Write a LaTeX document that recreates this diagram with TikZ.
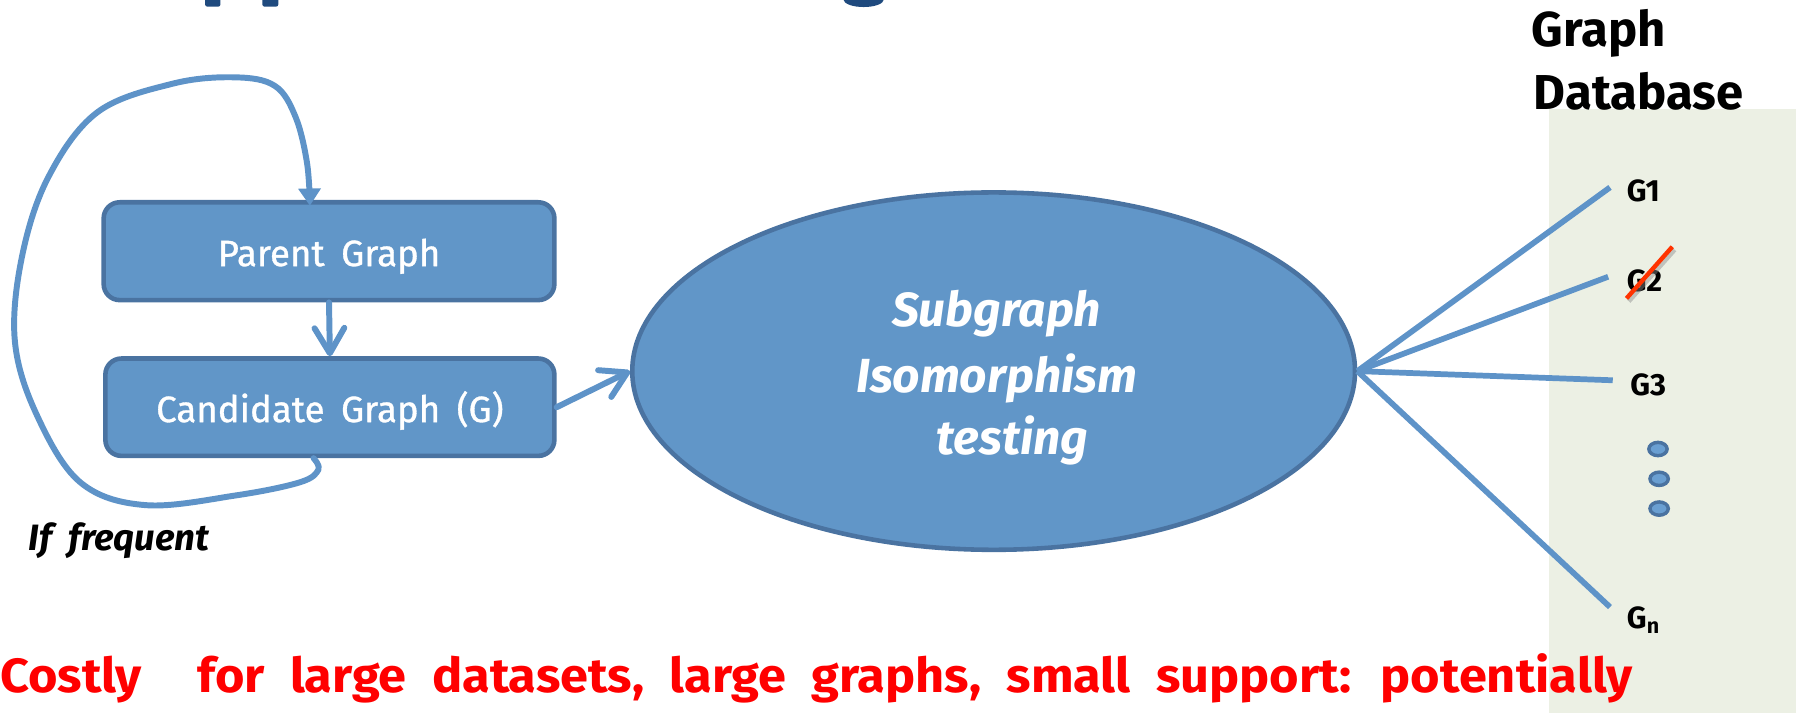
\documentclass[tikz,border=0pt]{standalone}
\usepackage{fontspec}
\setmainfont{Fira Sans}
\usetikzlibrary{arrows.meta,shapes.geometric,calc}

\definecolor{boxfill}{HTML}{6196C8}
\definecolor{boxedge}{HTML}{4A73A1}
\definecolor{wire}{HTML}{5E93C8}
\definecolor{panelbg}{HTML}{ECF0E4}
\definecolor{titleblue}{HTML}{1F4A7E}
\definecolor{strike}{HTML}{FF3300}
\definecolor{warnred}{HTML}{FF0000}
\definecolor{dotfill}{HTML}{6A9FD2}

% wider word spacing, as in the hand-lettered face
\newcommand\widesp{\spaceskip=.45em\relax}
\newcommand\widerSp{\spaceskip=.5em\relax}
\newcommand\heavier{\addfontfeature{FakeBold=0.9}}

\begin{document}
\begin{tikzpicture}[x=0.5pt, y=-0.5pt,
  stepbox/.style={draw=boxedge, fill=boxfill, line width=2pt, rounded corners=7pt,
    text=white, inner sep=0pt, text height=16pt, text depth=3pt,
    font={\fontsize{16}{19}\selectfont\heavier\widesp}},
  testnode/.style={ellipse, draw=boxedge, fill=boxfill, line width=2pt, inner sep=0pt},
  elltext/.style={anchor=base, inner sep=0pt, text=white,
    font={\fontsize{20.9}{25}\selectfont\bfseries\itshape}},
  wire/.style={draw=wire, line width=2.6pt, line cap=round, line join=round},
  spoke/.style={draw=wire, line width=2.5pt},
  vhead/.style={-{Straight Barb[length=11pt,width=13pt,round]}},
  glabel/.style={anchor=base west, inner sep=0pt, text=black,
    font={\fontsize{13.4}{16}\selectfont\bfseries}},
  dbtitle/.style={anchor=base west, inner sep=0pt, text=black,
    font={\fontsize{21.4}{24}\selectfont\bfseries}},
  dbdot/.style={draw=boxedge, fill=dotfill, line width=1.5pt}
]
\useasboundingbox (0,0) rectangle (1568,622.5);

% bottoms of the heading letters above the frame
\fill[titleblue, rounded corners=1pt] (179,-3) rectangle (192.5,5.8);
\fill[titleblue, rounded corners=1pt] (229,-3) rectangle (243,5.8);
\fill[titleblue] (736,-1) .. controls (737,8.5) and (771,8.5) .. (772,-1) -- cycle;

% graph database panel
\fill[panelbg] (1352.4,95.4) rectangle (1568,622.5);
\node[dbtitle] (dbt1) at (1337,40.7) {Graph};
\node[dbtitle] (dbt2) at (1338.6,96) {Database};

% mining loop
\node[stepbox, minimum width=196.75pt, minimum height=42.7pt] (par) at (287.25,219.3) {Parent Graph};
\node[stepbox, minimum width=196pt, minimum height=42.5pt] (cand) at (288,355.5) {Candidate Graph (G)};

\node[testnode, minimum width=315.5pt, minimum height=156pt] (ell) at (867.5,324) {};
\node[elltext] (l1) at ($(ell.center)+(2.5,-38.6)$) {Subgraph};
\node[elltext] (l2) at ($(ell.center)+(2.5,19)$) {Isomorphism};
\node[elltext] (l3) at ($(ell.center)+(16.5,72.4)$) {testing};

\draw[wire, vhead] (par.south) -- (cand.north);
\draw[wire, vhead] (cand.east) -- (ell.west);

\coordinate (loopout) at ($(cand.south west)!0.464!(cand.south east)$);
\coordinate (loopin) at ($(par.north west)!0.458!(par.north east)$);
\coordinate (looptip) at ($(loopin)+(0,5)$);
\draw[wire, -{Triangle[length=7.5pt,width=9.5pt]}]
  plot[smooth, tension=0.6] coordinates {(loopout) (278,410) (262,421)
    (206,432.5) (127,441) (70,421) (32,362) (13,298) (19,225) (42,155)
    (85,98) (151,73) (205,67.5) (240,75) (258,102) (268,142) (looptip)};

\node[anchor=base west, inner sep=0pt, text=black,
  font={\fontsize{16}{19}\selectfont\bfseries\itshape\widesp}] (iff) at (24.6,481) {If frequent};

% database graphs
\node[glabel] (g1) at (1420,176) {G1};
\node[glabel] (g2) at (1420,254.7) {G2};
\node[glabel] (g3) at (1423,345) {G3};
\node[glabel] (gn) at (1420,549) {G\textsubscript{n}};

\draw[spoke] (ell.east) -- ([shift={(-14.4,-12.4)}]g1.base west);
\draw[spoke] (ell.east) -- ([shift={(-16,-13.1)}]g2.base west);
\draw[spoke] (ell.east) -- ([shift={(-15,-13)}]g3.base west);
\draw[spoke] (ell.east) -- ([shift={(-14.4,-19)}]gn.base west);

% G2 struck out
\draw[black!45, opacity=0.45, line width=2pt] (1422,263) -- (1462,218);
\draw[strike, line width=1.9pt] (1420,260.5) -- (1460,215.4);

% ellipsis dots
\draw[dbdot] (1447.5,392) ellipse [x radius=4pt, y radius=2.9pt];
\draw[dbdot] (1448.5,418) ellipse [x radius=4pt, y radius=2.9pt];
\draw[dbdot] (1448.5,444) ellipse [x radius=4pt, y radius=2.9pt];

% cost remark
\node[anchor=base west, inner sep=0pt, text=warnred] (cost) at (0,605)
  {\resizebox{712.5pt}{17pt}{\bfseries\widerSp Costly\hspace{1.1em}for large datasets, large graphs, small support: potentially}};
\end{tikzpicture}
\end{document}
